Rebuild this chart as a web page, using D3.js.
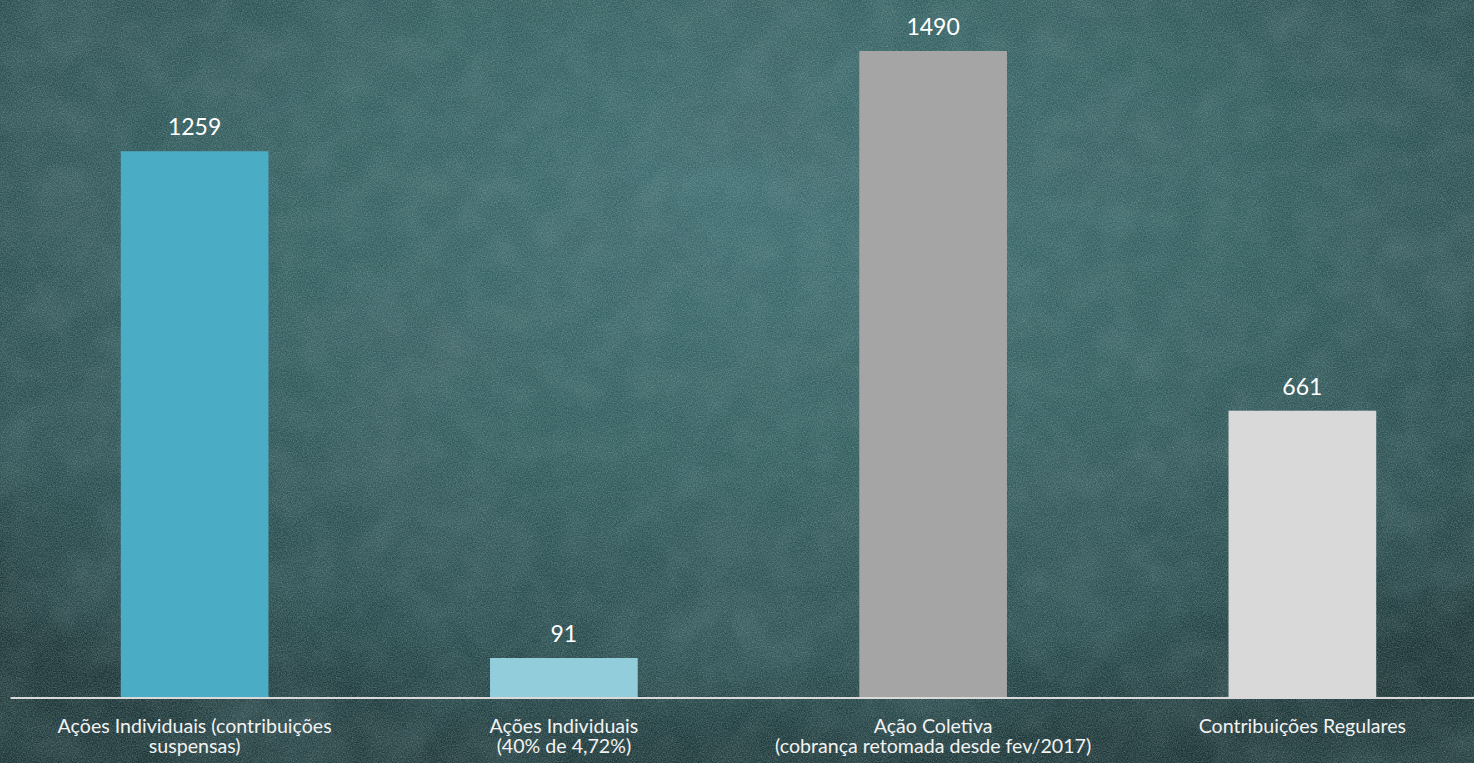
<!DOCTYPE html>
<html>
<head>
<meta charset="utf-8">
<script src="https://cdn.jsdelivr.net/npm/d3@7"></script>
<style>
  html, body { margin: 0; padding: 0; background: #2b5356; overflow: hidden; }
  svg { display: block; }
</style>
</head>
<body>
<svg id="chart" width="1474" height="763"></svg>
<script>
const categories = [
  "Ações Individuais (contribuições\nsuspensas)",
  "Ações Individuais\n(40% de 4,72%)",
  "Ação Coletiva\n(cobrança retomada desde fev/2017)",
  "Contribuições Regulares"
];
const values = [1259, 91, 1490, 661];
const barColors = ["#4bacc6", "#92cddc", "#a5a5a5", "#d9d9d9"];

const W = 1474, H = 763;
const svg = d3.select("#chart");
const defs = svg.append("defs");

// chalkboard background
const rg = defs.append("radialGradient").attr("id", "bg")
  .attr("cx", "50%").attr("cy", "30%").attr("r", "72%")
  .attr("fx", "52%").attr("fy", "25%");
rg.append("stop").attr("offset", "0%").attr("stop-color", "#3d6c6f");
rg.append("stop").attr("offset", "45%").attr("stop-color", "#315d5e");
rg.append("stop").attr("offset", "80%").attr("stop-color", "#25494b");
rg.append("stop").attr("offset", "100%").attr("stop-color", "#1a3335");

const f = defs.append("filter").attr("id", "noise")
  .attr("x", 0).attr("y", 0).attr("width", "100%").attr("height", "100%");
f.append("feTurbulence").attr("type", "fractalNoise")
  .attr("baseFrequency", "0.8").attr("numOctaves", 3).attr("seed", 4).attr("result", "t");
f.append("feColorMatrix").attr("in", "t").attr("type", "matrix")
  .attr("values", "0 0 0 0 0.75  0 0 0 0 0.85  0 0 0 0 0.85  0.4 0.4 0.4 0 -0.45");

const f3 = defs.append("filter").attr("id", "mottle")
  .attr("x", 0).attr("y", 0).attr("width", "100%").attr("height", "100%");
f3.append("feTurbulence").attr("type", "fractalNoise")
  .attr("baseFrequency", "0.03").attr("numOctaves", 4).attr("seed", 2).attr("result", "t");
f3.append("feColorMatrix").attr("in", "t").attr("type", "matrix")
  .attr("values", "0 0 0 0 0.6  0 0 0 0 0.75  0 0 0 0 0.75  0.5 0.5 0.5 0 -0.6");

const f2 = defs.append("filter").attr("id", "blotch")
  .attr("x", 0).attr("y", 0).attr("width", "100%").attr("height", "100%");
f2.append("feTurbulence").attr("type", "fractalNoise")
  .attr("baseFrequency", "0.006 0.01").attr("numOctaves", 3).attr("seed", 9).attr("result", "t");
f2.append("feColorMatrix").attr("in", "t").attr("type", "matrix")
  .attr("values", "0 0 0 0 0.05  0 0 0 0 0.12  0 0 0 0 0.13  0 0 0 -0.9 0.55");

svg.append("rect").attr("width", W).attr("height", H).attr("fill", "url(#bg)");
svg.append("rect").attr("width", W).attr("height", H).attr("filter", "url(#blotch)");
svg.append("rect").attr("width", W).attr("height", H).attr("filter", "url(#mottle)").attr("opacity", 0.15);
svg.append("rect").attr("width", W).attr("height", H).attr("filter", "url(#noise)").attr("opacity", 0.6);

// scales
const x = d3.scaleBand()
  .domain(categories)
  .range([10, 1487])
  .paddingInner(0.6)
  .paddingOuter(0.3);

const baseY = 697.5;
const y = d3.scaleLinear()
  .domain([0, d3.max(values)])
  .range([baseY, 51]);

const data = categories.map((c, i) => ({ c, v: values[i], col: barColors[i] }));

// bars
svg.append("g").selectAll("rect").data(data).join("rect")
  .attr("x", d => x(d.c))
  .attr("width", x.bandwidth())
  .attr("y", d => y(d.v))
  .attr("height", d => y(0) - y(d.v))
  .attr("fill", d => d.col);

// axis
const axis = d3.axisBottom(x).tickSize(0).tickFormat("");
const gx = svg.append("g").attr("transform", `translate(0,${baseY})`).call(axis);
gx.select(".domain").attr("stroke", "#d9d9d9").attr("stroke-width", 1.8);

// category labels (multi-line, one text per line)
const font = "Lato, 'Open Sans', sans-serif";
const lines = [];
data.forEach(d => d.c.split("\n").forEach((ln, k) => lines.push({ d, ln, k })));
svg.append("g").selectAll("text").data(lines).join("text")
  .attr("x", l => x(l.d.c) + x.bandwidth() / 2)
  .attr("y", l => baseY + 35 + l.k * 20.5)
  .attr("text-anchor", "middle")
  .attr("font-family", font)
  .attr("font-size", 19.6)
  .attr("fill", "#f2f2f2")
  .text(l => l.ln);

// value labels
svg.append("g").selectAll("text").data(data).join("text")
  .attr("x", d => x(d.c) + x.bandwidth() / 2)
  .attr("y", d => y(d.v) - 16)
  .attr("text-anchor", "middle")
  .attr("font-family", font)
  .attr("font-size", 23)
  .attr("fill", "#ffffff")
  .text(d => d.v);
</script>
</body>
</html>
